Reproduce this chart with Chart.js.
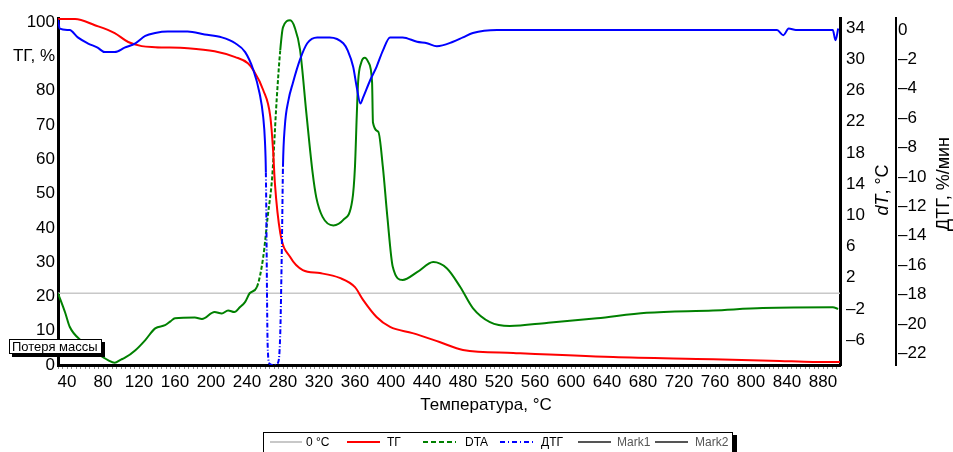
<!DOCTYPE html>
<html><head><meta charset="utf-8">
<script src="https://cdn.jsdelivr.net/npm/chart.js@4.4.1/dist/chart.umd.min.js"></script>
<style>html,body{margin:0;padding:0;background:#fff}#wrap{width:953px;height:452px;position:relative}</style>
</head><body><div id="wrap"><canvas id="c" width="953" height="452"></canvas></div>
<script>
// ---- data ----
const X_MIN = 30, X_MAX = 899;
const xTicks = [40,80,120,160,200,240,280,320,360,400,440,480,520,560,600,640,680,720,760,800,840,880];
const tgTicks = [0,10,20,30,40,50,60,70,80,90,100];
const dtTicks = [-6,-2,2,6,10,14,18,22,26,30,34];
const dtgTicks = [-22,-20,-18,-16,-14,-12,-10,-8,-6,-4,-2,0];

const tgTemp = [30,49,71,93,108,123,138,174,204,227,241,247,258,266,269,271,277,288,302,321,343,360,369,384,399,424,454,480,536,647,758,832,869,899];
const tgVal  = [100.9,100.9,99.1,96.8,94.2,93.0,92.7,92.4,91.5,89.8,88.0,86.0,80.2,72.3,62.7,53.1,38.5,31.5,27.7,26.8,25.4,22.7,19.0,14.0,11.1,9.3,6.7,4.4,3.5,2.3,1.7,1.2,0.9,0.9];

const dtaTemp = [30,38,43,57,71,86,93,100,104,116,127,138,149,155,160,182,190,204,212,219,226,232,238,243,251,258,263,268,273,277,280,288,293,299,306,313,317,324,336,347,357,360,362,363.5,367,371,375,379,380,386,391,396,402,413,429,447,462,477,491,510,532,573,629,684,758,813,891,897];
const dtaVal  = [0.0,-2.5,-4.3,-6.2,-7.5,-8.6,-8.9,-8.5,-8.3,-7.3,-6.0,-4.5,-4.1,-3.6,-3.2,-3.1,-3.3,-2.4,-2.6,-2.2,-2.4,-1.8,-1.1,0.0,0.8,4.6,9.8,14.9,24.8,31.2,34.1,35.0,34.1,31.2,23.1,15.4,12.3,9.8,8.7,9.4,11.9,16.2,22.8,27.1,29.6,30.2,29.6,27.1,21.9,20.7,16.2,9.8,3.4,1.7,2.7,4.0,3.2,0.8,-1.9,-3.7,-4.2,-3.8,-3.2,-2.5,-2.2,-1.9,-1.8,-2.0];

const dtgTemp = [30,32,43,52,63,74,82,93,104,116,127,138,152,174,193,212,227,238,247,254,258,260,261,263,265,269,274,277,279,280,282,286,291,299,307,318,332,347,352,358,362,366,369,377,384,391,399,413,429,440,451,469,480,491,518,580,650,700,760,821,829,836,842,850,891,894,897];
const dtgVal  = [0.7,0.1,0.0,-0.5,-0.9,-1.2,-1.5,-1.5,-1.2,-0.9,-0.4,-0.2,-0.1,-0.1,-0.3,-0.5,-0.9,-1.5,-2.7,-4.3,-5.9,-7.6,-9.7,-21.5,-22.7,-22.8,-22.7,-20.6,-13.8,-9.3,-6.6,-4.8,-3.6,-2.0,-0.9,-0.5,-0.5,-0.9,-1.4,-2.5,-3.9,-5.0,-4.6,-3.4,-2.5,-1.4,-0.5,-0.5,-0.8,-0.9,-1.1,-0.8,-0.5,-0.2,0.0,0.0,0.0,0.0,0.0,0.0,0.0,-0.35,0.1,0.0,0.0,-0.7,0.1];

const DTA_DASH = [251, 277];
const DTG_DASH = [261, 280];

const FONT = '"Liberation Sans", Arial, sans-serif';
const pts = (xs, ys) => xs.map((x, i) => ({x, y: ys[i]}));
const fmtNeg = v => v < 0 ? '\u2013' + Math.abs(v) : String(v);
const inRange = (ctx, r) => ctx.p0.parsed.x >= r[0] && ctx.p1.parsed.x <= r[1];

const decor = {
  id: 'decor',
  afterDraw(chart) {
    const ctx = chart.ctx, ca = chart.chartArea, xs = chart.scales.x;
    ctx.save();
    // minor ticks under the temperature axis
    ctx.strokeStyle = '#8a8a8a'; ctx.lineWidth = 1;
    for (let t = 30; t <= X_MAX; t += 5) {
      const px = Math.round(xs.getPixelForValue(t)) + 0.5;
      ctx.beginPath(); ctx.moveTo(px, ca.bottom + 2); ctx.lineTo(px, ca.bottom + 4); ctx.stroke();
    }
    // axis titles
    ctx.fillStyle = '#000';
    ctx.font = '17px ' + FONT; ctx.textAlign = 'center'; ctx.textBaseline = 'middle';
    ctx.fillText('Температура, °C', 486, 405);
    // dT title (rotated)
    ctx.save(); ctx.translate(883, 190); ctx.rotate(-Math.PI / 2);
    const f1 = 'italic 18px ' + FONT, f2 = '18px ' + FONT;
    ctx.font = f1; const w1 = ctx.measureText('dT').width;
    ctx.font = f2; const w2 = ctx.measureText(', °C').width;
    const sx = -(w1 + w2) / 2; ctx.textAlign = 'left';
    ctx.font = f1; ctx.fillText('dT', sx, 0);
    ctx.font = f2; ctx.fillText(', °C', sx + w1, 0);
    ctx.restore();
    ctx.save(); ctx.translate(944, 184); ctx.rotate(-Math.PI / 2);
    ctx.font = '18px ' + FONT; ctx.textAlign = 'center'; ctx.fillText('ДТГ, %/мин', 0, 0);
    ctx.restore();
    // "Потеря массы" label box
    ctx.fillStyle = '#000'; ctx.fillRect(12, 342, 93, 15);
    ctx.fillStyle = '#fff'; ctx.fillRect(9, 339, 93, 15);
    ctx.strokeStyle = '#000'; ctx.lineWidth = 1; ctx.strokeRect(9.5, 339.5, 92, 14);
    ctx.fillStyle = '#000'; ctx.font = '13px ' + FONT; ctx.textAlign = 'left'; ctx.textBaseline = 'middle';
    ctx.fillText('Потеря массы', 12, 347);
    // legend box
    ctx.fillStyle = '#000'; ctx.fillRect(267, 435, 470, 20);
    ctx.fillStyle = '#fff'; ctx.fillRect(263, 432, 470, 22);
    ctx.strokeStyle = '#000'; ctx.strokeRect(263.5, 432.5, 469, 22);
    const items = [
      {x0: 270, x1: 302, tx: 306, text: '0 °C', color: '#c8c8c8', dash: [], tc: '#000'},
      {x0: 347, x1: 380, tx: 387, text: 'ТГ', color: '#ff0000', dash: [], tc: '#000'},
      {x0: 423, x1: 456, tx: 465, text: 'DTA', color: '#008000', dash: [5, 3], tc: '#000'},
      {x0: 500, x1: 533, tx: 541, text: 'ДТГ', color: '#0000ff', dash: [5, 3, 1, 3], tc: '#000'},
      {x0: 578, x1: 611, tx: 617, text: 'Mark1', color: '#555', dash: [], tc: '#555'},
      {x0: 655, x1: 688, tx: 695, text: 'Mark2', color: '#555', dash: [], tc: '#555'}
    ];
    ctx.font = '12px ' + FONT; ctx.textBaseline = 'middle';
    items.forEach(it => {
      ctx.strokeStyle = it.color; ctx.lineWidth = 2; ctx.setLineDash(it.dash);
      ctx.beginPath(); ctx.moveTo(it.x0, 442); ctx.lineTo(it.x1, 442); ctx.stroke();
      ctx.setLineDash([]);
      ctx.fillStyle = it.tc; ctx.fillText(it.text, it.tx, 443);
    });
    ctx.restore();
  }
};

const tickFont = {family: FONT, size: 17};
new Chart(document.getElementById('c'), {
  type: 'line',
  data: {
    datasets: [
      {label: 'ДТГ', data: pts(dtgTemp, dtgVal), yAxisID: 'yD', borderColor: '#0000ff', borderWidth: 2, pointRadius: 0,
       cubicInterpolationMode: 'monotone', order: 0,
       segment: {borderDash: c => inRange(c, DTG_DASH) ? [5, 2, 1, 2] : undefined}},
      {label: 'ТГ', data: pts(tgTemp, tgVal), yAxisID: 'y', borderColor: '#ff0000', borderWidth: 2, pointRadius: 0,
       cubicInterpolationMode: 'monotone', order: 1},
      {label: 'DTA', data: pts(dtaTemp, dtaVal), yAxisID: 'yT', borderColor: '#008000', borderWidth: 2, pointRadius: 0,
       cubicInterpolationMode: 'monotone', order: 2,
       segment: {borderDash: c => inRange(c, DTA_DASH) ? [4, 2] : undefined}},
      {label: '0 °C', data: [{x: X_MIN, y: 0}, {x: X_MAX, y: 0}], yAxisID: 'yT', borderColor: '#c8c8c8', borderWidth: 1.5,
       pointRadius: 0, order: 3}
    ]
  },
  options: {
    responsive: false, animation: false, devicePixelRatio: 1,
    layout: {padding: {top: 18, bottom: 27, left: 0, right: 0}},
    plugins: {legend: {display: false}, tooltip: {enabled: false}},
    scales: {
      x: {type: 'linear', position: 'bottom', min: X_MIN, max: X_MAX,
          afterBuildTicks: s => { s.ticks = xTicks.map(v => ({value: v})); },
          afterFit: s => { s.height = 60; },
          grid: {display: false, drawTicks: false},
          border: {display: true, color: '#000', width: 3},
          ticks: {color: '#000', font: tickFont, padding: 7, maxRotation: 0, autoSkip: false, callback: v => String(v)}},
      y: {type: 'linear', position: 'left', min: 0, max: 101.2,
          afterBuildTicks: s => { s.ticks = tgTicks.map(v => ({value: v})); },
          afterFit: s => { s.width = 58; },
          grid: {display: false, drawTicks: false},
          border: {display: true, color: '#000', width: 3},
          ticks: {color: '#000', font: tickFont, padding: 3, autoSkip: false, callback: v => v === 90 ? 'ТГ, %' : String(v)}},
      yT: {type: 'linear', position: 'right', weight: 0, min: -9.2, max: 35.3,
          afterBuildTicks: s => { s.ticks = dtTicks.map(v => ({value: v})); },
          afterFit: s => { s.width = 56; },
          grid: {display: false, drawTicks: false},
          border: {display: true, color: '#000', width: 3},
          ticks: {color: '#000', font: tickFont, padding: 6, autoSkip: false, callback: fmtNeg}},
      yD: {type: 'linear', position: 'right', weight: 1, min: -22.8, max: 0.82,
          afterBuildTicks: s => { s.ticks = dtgTicks.map(v => ({value: v})); },
          afterFit: s => { s.width = 57; },
          grid: {display: false, drawTicks: false},
          border: {display: true, color: '#000', width: 2},
          ticks: {color: '#000', font: tickFont, padding: 2, autoSkip: false, callback: fmtNeg}}
    }
  },
  plugins: [decor]
});
</script>
</body></html>
